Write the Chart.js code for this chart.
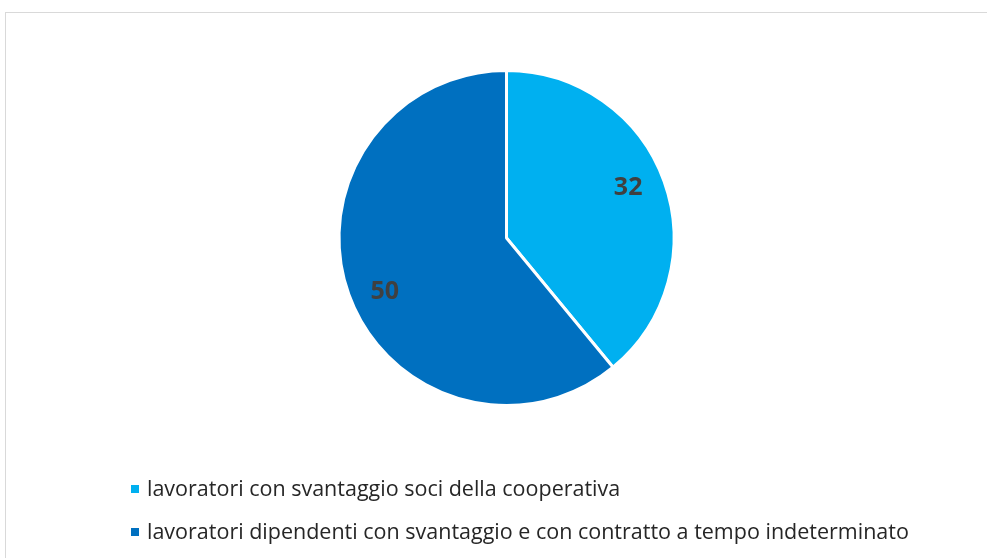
<!DOCTYPE html>
<html>
<head>
<meta charset="utf-8">
<script src="https://cdn.jsdelivr.net/npm/chart.js@4/dist/chart.umd.min.js"></script>
<style>
  html, body { margin: 0; padding: 0; background: #fff; }
  #wrap { position: absolute; left: 0; top: 0; width: 987px; height: 558px; }
  #frame { position: absolute; left: 5px; top: 12px; width: 1000px; height: 600px;
           border: 1px solid #d9d9d9; box-sizing: border-box; }
  canvas { position: absolute; left: 0; top: 0; }
</style>
</head>
<body>
<div id="wrap">
  <div id="frame"></div>
  <canvas id="pieChart" width="987" height="558"></canvas>
</div>
<script>
var categories = [
  'lavoratori con svantaggio soci della cooperativa',
  'lavoratori dipendenti con svantaggio e con contratto a tempo indeterminato'
];
var values = [32, 50];
var colors = ['#00B0F0', '#0070C0'];

// numbers inside the slices
var sliceLabels = {
  id: 'sliceLabels',
  afterDatasetsDraw: function(chart) {
    var ctx = chart.ctx;
    var meta = chart.getDatasetMeta(0);
    ctx.save();
    ctx.font = 'bold 25px "Open Sans"';
    ctx.fillStyle = '#404040';
    ctx.textAlign = 'center';
    ctx.textBaseline = 'middle';
    meta.data.forEach(function(arc, i) {
      var mid = (arc.startAngle + arc.endAngle) / 2 - 0.06;
      var r = arc.outerRadius * 0.79;
      ctx.fillText(chart.data.datasets[0].data[i], arc.x + Math.cos(mid) * r, arc.y + Math.sin(mid) * r + 2);
    });
    ctx.restore();
  }
};

// legend stacked at the bottom left
var sideLegend = {
  id: 'sideLegend',
  afterDraw: function(chart) {
    var ctx = chart.ctx;
    ctx.save();
    ctx.font = '21.5px "Open Sans"';
    ctx.textBaseline = 'middle';
    chart.data.labels.forEach(function(lab, i) {
      var y = 489 + i * 43;
      ctx.fillStyle = chart.data.datasets[0].backgroundColor[i];
      ctx.fillRect(131, y - 4, 8, 8);
      ctx.fillStyle = '#262626';
      ctx.fillText(lab, 147, y + 1);
    });
    ctx.restore();
  }
};

var ctx = document.getElementById('pieChart');
var myPieChart = new Chart(ctx, {
  type: 'pie',
  data: {
    labels: categories,
    datasets: [{
      data: values,
      backgroundColor: colors,
      borderColor: '#ffffff',
      borderWidth: 3
    }]
  },
  options: {
    responsive: false,
    animation: false,
    layout: { padding: { top: 69, bottom: 151, left: 26, right: 0 } },
    plugins: {
      legend: { display: false },
      tooltip: { enabled: false }
    }
  },
  plugins: [sliceLabels, sideLegend]
});
</script>
</body>
</html>
